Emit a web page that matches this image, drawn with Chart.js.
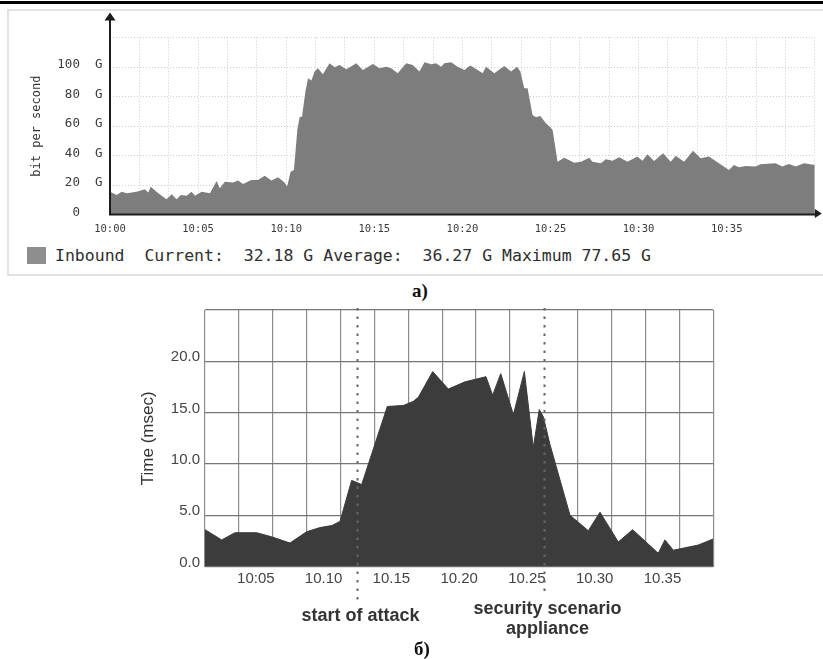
<!DOCTYPE html>
<html>
<head>
<meta charset="utf-8">
<script src="https://cdn.jsdelivr.net/npm/chart.js@4.4.0/dist/chart.umd.min.js"></script>
<style>
  body { margin: 0; width: 823px; height: 659px; background: #fff; position: relative; overflow: hidden; }
  .abs { position: absolute; }
  #topLine { left: 0; top: 1px; width: 823px; height: 3px; background: #000; }
  #panelA { left: 7px; top: 9px; width: 830px; height: 267px; border: 2px solid #e2e2e2; box-sizing: border-box; }
  #canvasA { left: 8px; top: 9px; }
  #legendA { left: 27px; top: 246px; height: 20px; font: 16.5px "DejaVu Sans Mono", monospace; color: #2e2e2e; white-space: pre; line-height: 20px; }
  #legendA .box { display: inline-block; width: 19px; height: 17px; background: #8e8e8e; vertical-align: -3px; margin-right: 9px; }
  #canvasB { left: 120px; top: 296px; }
  .cap { font: bold 19px "Liberation Serif", "Times New Roman", serif; color: #111; transform: translate(-50%, -50%); }
</style>
</head>
<body>
<div id="topLine" class="abs"></div>
<div id="panelA" class="abs"></div>
<canvas id="canvasA" class="abs" width="815" height="232" style="width:815px;height:232px"></canvas>
<div id="legendA" class="abs"><span class="box"></span><span id="legendText"></span></div>
<div class="abs cap" style="left:420px;top:291px">а)</div>
<canvas id="canvasB" class="abs" width="610" height="350" style="width:610px;height:350px"></canvas>
<div class="abs cap" style="left:422px;top:649px">б)</div>

<script>
// ---- chart а): inbound traffic, minutes after 10:00 -> Gbit/s
const timesA = [0, 0.38, 0.66, 0.95, 1.51, 1.98, 2.17, 2.31, 2.74, 3.21, 3.5, 3.78, 4.02, 4.35, 4.63, 4.82,
  5.2, 5.67, 6.05, 6.23, 6.52, 6.99, 7.27, 7.55, 8.03, 8.4, 8.78, 9.16, 9.54, 9.92, 10.05, 10.25, 10.44,
  10.63, 10.76, 10.9, 11.09, 11.24, 11.43, 11.61, 11.8, 12.08, 12.46, 12.75, 13.03, 13.41, 13.98, 14.35,
  14.92, 15.3, 15.68, 15.96, 16.33, 16.81, 17.18, 17.56, 17.85, 18.23, 18.51, 18.79, 18.98, 19.36, 19.73,
  20.11, 20.45, 20.87, 21.15, 21.34, 21.81, 22.38, 22.76, 23.1, 23.29, 23.51, 23.7, 23.98, 24.18, 24.42,
  24.74, 24.99, 25.12, 25.4, 25.78, 26.35, 26.73, 27.2, 27.38, 27.86, 28.14, 28.52, 28.9, 29.37, 29.93,
  30.22, 30.5, 30.88, 31.39, 31.82, 32.11, 32.58, 33.09, 33.52, 33.99, 34.56, 35.13, 35.41, 35.69, 36.07,
  36.64, 36.92, 37.77, 38.15, 38.53, 38.92, 39.38, 40];
const inboundG = [15.5, 13.2, 15.5, 14.4, 15.5, 17.1, 14.9, 18.9, 14.4, 10.3, 13.7, 10.3, 13.2, 12.8, 15.5, 12.8,
  15.5, 14.4, 22.7, 17.8, 22.3, 21.8, 23.0, 20.7, 23.4, 23.4, 26.3, 23.0, 25.3, 21.5, 18.9, 29.1, 30.2,
  57.4, 66.0, 66.5, 83.4, 92.5, 90.9, 97.0, 99.3, 95.2, 102.7, 99.9, 101.5, 98.6, 102.7, 98.1,
  102.2, 99.3, 100.3, 99.3, 95.9, 102.7, 101.5, 97.0, 103.3, 102.0, 102.7, 100.3, 102.7, 103.3, 100.3,
  98.1, 101.2, 98.1, 95.9, 100.3, 95.9, 100.8, 97.0, 100.3, 97.0, 85.7, 85.7, 67.5, 66.0, 66.9,
  61.9, 59.2, 57.4, 35.8, 38.6, 35.2, 35.8, 38.6, 35.8, 34.8, 37.5, 36.4, 38.8, 35.8, 39.3,
  36.4, 40.9, 36.3, 41.5, 35.8, 39.9, 35.8, 43.3, 38.2, 39.3, 34.8, 30.2, 33.6, 32.0, 32.9,
  32.5, 34.1, 34.8, 32.5, 34.3, 32.5, 34.8, 33.6];
const tickLabelsA = ['10:00', '10:05', '10:10', '10:15', '10:20', '10:25', '10:30', '10:35'];
const legendNameA = 'Inbound';
const legendStatsA = ['Current:  32.18 G', 'Average:  36.27 G', 'Maximum 77.65 G'];

// ---- chart б): response time, minutes after 10:00 -> msec
const timesB = [1.25, 2.48, 3.46, 5.06, 6.17, 7.52, 8.75, 9.73, 10.6, 11.21, 12.07, 12.81, 14.7, 15.88,
  16.62, 16.99, 18.05, 19.2, 20.43, 21.98, 22.47, 23.07, 24.0, 24.81, 25.47, 25.91, 26.21, 26.7, 28.18,
  29.53, 30.39, 31.74, 32.8, 34.69, 35.18, 35.8, 37.64, 38.75];
const msecB = [3.6, 2.6, 3.3, 3.3, 2.9, 2.3, 3.4, 3.8, 4.0, 4.4, 8.4, 8.0, 15.6, 15.7,
  16.1, 16.5, 19.0, 17.3, 18.0, 18.5, 16.7, 18.8, 14.8, 19.0, 11.6, 15.3, 14.6, 11.9, 5.0,
  3.5, 5.3, 2.4, 3.6, 1.3, 2.6, 1.6, 2.1, 2.7];
const tickTimesB = [5, 10, 15, 20, 25, 30, 35];
const tickLabelsB = ['10:05', '10.10', '10.15', '10.20', '10.25', '10.30', '10.35'];
const markerTimesB = [12.5, 26.25];
const markerTextB = [['start of attack'], ['security scenario', 'appliance']];

document.getElementById('legendText').textContent = legendNameA + '  ' + legendStatsA.join(' ');

const mono = '"DejaVu Sans Mono", monospace';
const sans = '"Liberation Sans", Arial, sans-serif';

// axes with arrow heads for chart а)
const arrowAxes = {
  id: 'arrowAxes',
  afterDraw(chart) {
    const ctx = chart.ctx, a = chart.chartArea;
    ctx.save();
    ctx.strokeStyle = '#1c1c1c';
    ctx.fillStyle = '#1c1c1c';
    ctx.lineWidth = 2;
    ctx.beginPath();
    ctx.moveTo(a.left, a.bottom + 1);
    ctx.lineTo(a.left, 10);
    ctx.moveTo(a.left - 1, a.bottom);
    ctx.lineTo(a.right + 1, a.bottom);
    ctx.stroke();
    ctx.beginPath();
    ctx.moveTo(a.left, 3.5);
    ctx.lineTo(a.left - 5.5, 11.5);
    ctx.lineTo(a.left + 5.5, 11.5);
    ctx.fill();
    ctx.beginPath();
    ctx.moveTo(a.right + 7, a.bottom - 1);
    ctx.lineTo(a.right, a.bottom - 5.5);
    ctx.lineTo(a.right, a.bottom + 3.5);
    ctx.fill();
    ctx.restore();
  }
};

new Chart(document.getElementById('canvasA'), {
  type: 'line',
  data: {
    datasets: [{
      data: timesA.map((t, i) => ({ x: t, y: inboundG[i] })),
      backgroundColor: '#7d7d7d',
      borderColor: '#7d7d7d',
      borderWidth: 0,
      pointRadius: 0,
      fill: 'origin',
      tension: 0
    }]
  },
  options: {
    responsive: false,
    animation: false,
    layout: { padding: { left: 0, right: 7, top: 28.7, bottom: 0 } },
    plugins: { legend: { display: false }, tooltip: { enabled: false } },
    scales: {
      x: {
        type: 'linear', min: 0, max: 40,
        afterBuildTicks: (s) => { s.ticks = Array.from({ length: 25 }, (_, k) => ({ value: k * 5 / 3 })); },
        afterFit: (s) => { s.height = 26.5; },
        grid: { color: '#cdcdcd', lineWidth: 1, drawTicks: false },
        border: { display: false, dash: [1, 2] },
        ticks: {
          autoSkip: false, maxRotation: 0, padding: 8.2, color: '#3a3a3a',
          font: { family: mono, size: 10.5 },
          callback: (v, i) => (i % 3 === 0 && tickLabelsA[i / 3]) ? tickLabelsA[i / 3] : ''
        }
      },
      y: {
        min: 0, max: 120,
        afterFit: (s) => { s.width = 102; },
        grid: { color: '#cdcdcd', lineWidth: 1, drawTicks: false },
        border: { display: false, dash: [1, 2] },
        ticks: {
          stepSize: 20, padding: 7.5, color: '#3a3a3a', labelOffset: -2,
          font: { family: mono, size: 12.5 },
          callback: (v) => v >= 120 ? '' : (v === 0 ? '  0   ' : String(v).padStart(3, ' ') + '  G')
        },
        title: {
          display: true, text: 'bit per second', color: '#333',
          font: { family: mono, size: 12 }, padding: { top: 21.8, bottom: 0 }
        }
      }
    }
  },
  plugins: [arrowAxes]
});

// dotted event markers for chart б)
const eventMarkers = {
  id: 'eventMarkers',
  afterDatasetsDraw(chart) {
    const ctx = chart.ctx, a = chart.chartArea, xs = chart.scales.x;
    const ends = [305.7, 300.7];
    ctx.save();
    markerTimesB.forEach((t, i) => {
      const x = Math.round(xs.getPixelForValue(t)) + 0.5;
      ctx.strokeStyle = '#666';
      ctx.lineWidth = 2;
      ctx.setLineDash([2.5, 6]);
      ctx.beginPath();
      ctx.moveTo(x, a.top - 2);
      ctx.lineTo(x, ends[i]);
      ctx.stroke();
      ctx.setLineDash([]);
      ctx.fillStyle = '#333';
      ctx.font = 'bold 18px ' + sans;
      ctx.textAlign = 'center';
      ctx.textBaseline = 'middle';
      const lines = markerTextB[i];
      const y0 = lines.length === 1 ? 320 : 313.3;
      lines.forEach((s, j) => ctx.fillText(s, x + 3, y0 + j * 20));
    });
    ctx.restore();
  }
};

const gridTicksB = Array.from({ length: 16 }, (_, k) => 1.25 + 2.5 * k);

new Chart(document.getElementById('canvasB'), {
  type: 'line',
  data: {
    datasets: [{
      data: timesB.map((t, i) => ({ x: t, y: msecB[i] })),
      backgroundColor: '#3c3c3c',
      borderColor: '#3c3c3c',
      borderWidth: 1,
      pointRadius: 0,
      fill: 'origin',
      tension: 0
    }]
  },
  options: {
    responsive: false,
    animation: false,
    layout: { padding: { left: 0, right: 16.7, top: 10.7, bottom: 0 } },
    plugins: { legend: { display: false }, tooltip: { enabled: false } },
    scales: {
      x: {
        type: 'linear', min: 1.25, max: 38.75,
        afterBuildTicks: (s) => {
          s.ticks = gridTicksB.concat(tickTimesB).sort((p, q) => p - q).map(v => ({ value: v }));
        },
        afterFit: (s) => { s.height = 79.4; },
        grid: {
          drawTicks: false, lineWidth: 1.2,
          color: (c) => {
            const v = c.tick ? c.tick.value : null;
            if (tickTimesB.includes(v) || markerTimesB.includes(v)) return 'rgba(0,0,0,0)';
            return '#8c8c8c';
          }
        },
        border: { display: false },
        ticks: {
          autoSkip: false, maxRotation: 0, padding: 3.7, color: '#444',
          font: { family: sans, size: 15 },
          callback: (v) => {
            const i = tickTimesB.indexOf(v);
            return i >= 0 ? tickLabelsB[i] : '';
          }
        }
      },
      y: {
        min: 0, max: 25,
        afterFit: (s) => { s.width = 85; },
        grid: { drawTicks: false, lineWidth: 1.2, color: '#767676' },
        border: { display: false },
        ticks: {
          stepSize: 5, padding: 5, color: '#444', labelOffset: -4,
          font: { family: sans, size: 15 },
          callback: (v) => v >= 25 ? '' : v.toFixed(1)
        },
        title: {
          display: true, text: 'Time (msec)', color: '#333',
          font: { family: sans, size: 17 }, padding: { top: 17.8, bottom: 0 }
        }
      }
    }
  },
  plugins: [eventMarkers]
});
</script>
</body>
</html>
